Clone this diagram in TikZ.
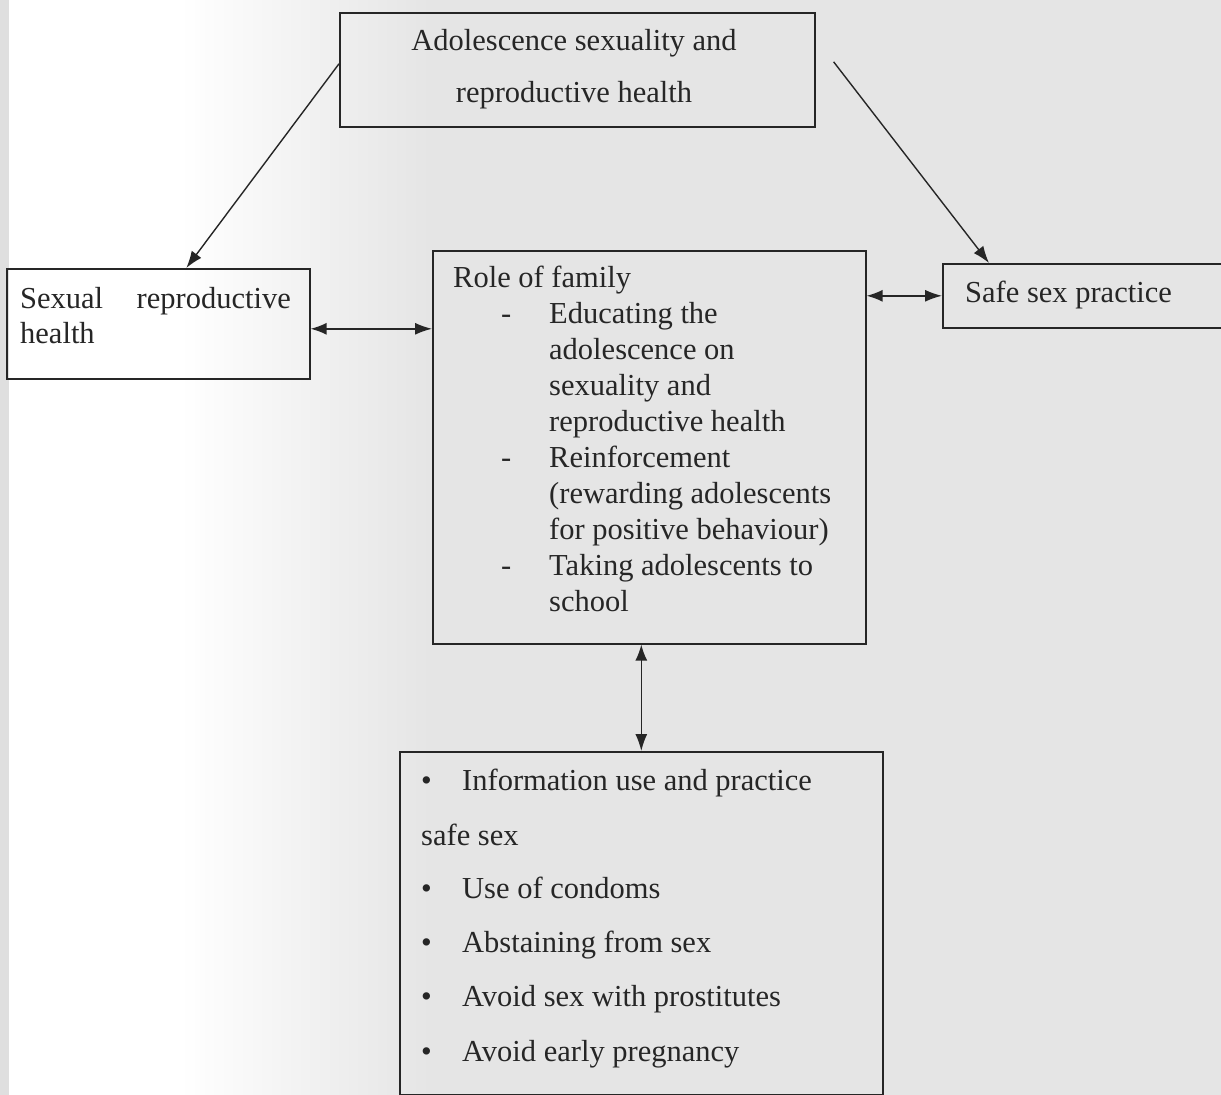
\documentclass[tikz,border=0pt]{standalone}
\usepackage{fontspec}
\setmainfont{Liberation Serif}
\usetikzlibrary{arrows.meta,calc}
\definecolor{bg}{RGB}{229,229,229}
\definecolor{ink}{RGB}{38,38,38}
\begin{document}
\begin{tikzpicture}[x=1pt,y=-1pt,
  box/.style={draw=ink, line width=1.6pt, inner sep=0pt, anchor=north west},
  lbl/.style={anchor=base west, inner sep=0pt, text=ink, font=\fontsize{30.5}{36}\selectfont},
  arr/.style={draw=ink, line width=1.4pt, -{Latex[length=17pt,width=12pt]}},
  darr/.style={draw=ink, line width=1.4pt, {Latex[length=16pt,width=12pt]}-{Latex[length=17pt,width=12pt]}}]
\useasboundingbox (0,0) rectangle (1221,1095);
\clip (0,0) rectangle (1221,1095);
% scanned page background
\fill[bg] (0,0) rectangle (1221,1095);
\fill[white] (9,0) rectangle (180,1095);
\shade[left color=white, right color=bg] (180,0) rectangle (430,1095);
\fill[gray!25] (0,0) rectangle (9,1095);

% boxes
\node[box, minimum width=475pt, minimum height=114pt] (top) at (339,12) {};
\node[box, minimum width=303pt, minimum height=110pt] (left) at (6,268) {};
\node[box, minimum width=433pt, minimum height=393pt] (center) at (432,250) {};
\node[box, minimum width=300pt, minimum height=64pt] (right) at (942,263) {};
\node[box, minimum width=483pt, minimum height=343pt] (bottom) at (399,751) {};

% top box text
\node[lbl, anchor=base] (t1) at (574,50) {Adolescence sexuality and};
\node[lbl, anchor=base] (t2) at (574,102) {reproductive health};

% left box text
\node[lbl] (l1) at (20,308) {Sexual};
\node[lbl, anchor=base east] (l2) at (291,308) {reproductive};
\node[lbl] (l3) at (20,343) {health};

% center box text
\node[lbl] (c0) at (453,287) {Role of family};
\node[lbl] (d1) at (501,323) {-};
\node[lbl] (c1) at (549,323) {Educating the};
\node[lbl] (c2) at (549,359) {adolescence on};
\node[lbl] (c3) at (549,395) {sexuality and};
\node[lbl] (c4) at (549,431) {reproductive health};
\node[lbl] (d2) at (501,467) {-};
\node[lbl] (c5) at (549,467) {Reinforcement};
\node[lbl] (c6) at (549,503) {(rewarding adolescents};
\node[lbl] (c7) at (549,539) {for positive behaviour)};
\node[lbl] (d3) at (501,575) {-};
\node[lbl] (c8) at (549,575) {Taking adolescents to};
\node[lbl] (c9) at (549,611) {school};

% right box text
\node[lbl] (r1) at (965,302) {Safe sex practice};

% bottom box text
\node[lbl] (b1d) at (421,790) {\textbullet};
\node[lbl] (b1) at (462,790) {Information use and practice};
\node[lbl] (b2) at (421,845) {safe sex};
\node[lbl] (b3d) at (421,898) {\textbullet};
\node[lbl] (b3) at (462,898) {Use of condoms};
\node[lbl] (b4d) at (421,952) {\textbullet};
\node[lbl] (b4) at (462,952) {Abstaining from sex};
\node[lbl] (b5d) at (421,1006) {\textbullet};
\node[lbl] (b5) at (462,1006) {Avoid sex with prostitutes};
\node[lbl] (b6d) at (421,1061) {\textbullet};
\node[lbl] (b6) at (462,1061) {Avoid early pregnancy};

% connectors
\draw[arr] ([yshift=6pt]top.west) -- ([xshift=28pt]left.north);
\draw[arr] ([xshift=18pt,yshift=8pt]top.east) -- ([xshift=47pt]right.north west);
\draw[darr] ([yshift=-5pt]left.east) -- ([yshift=-5pt]left.east -| center.west);
\draw[darr] (right.west -| center.east) -- (right.west);
\draw[darr] (bottom.north |- center.south) -- (bottom.north);
\end{tikzpicture}
\end{document}
